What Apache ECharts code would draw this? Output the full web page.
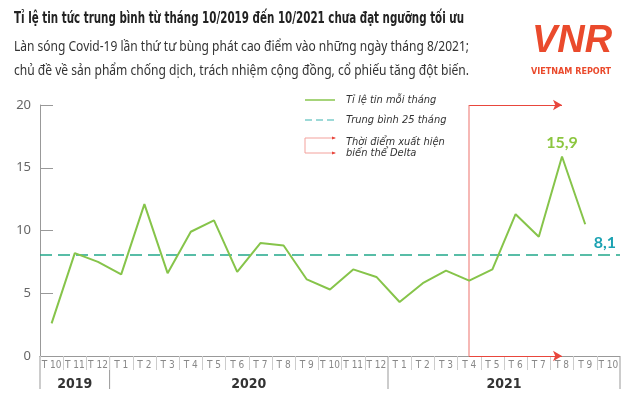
<!DOCTYPE html>
<html>
<head>
<meta charset="utf-8">
<script src="https://cdn.jsdelivr.net/npm/echarts@6/dist/echarts.min.js"></script>
<style>
  html, body { margin: 0; padding: 0; background: #fff; }
  #chart { width: 630px; height: 402px; }
</style>
</head>
<body>
<div id="chart"></div>
<script>
// tháng, từ T10/2019 đến T10/2021
const months = ['T 10', 'T 11', 'T 12',
  'T 1', 'T 2', 'T 3', 'T 4', 'T 5', 'T 6', 'T 7', 'T 8', 'T 9', 'T 10', 'T 11', 'T 12',
  'T 1', 'T 2', 'T 3', 'T 4', 'T 5', 'T 6', 'T 7', 'T 8', 'T 9', 'T 10']
const years = ['2019', '2020', '2021']
const yearSpans = [3, 12, 10]
// tỉ lệ tin mỗi tháng (%)
const rate = [2.6, 8.2, 7.5, 6.5, 12.1, 6.6, 9.9, 10.8, 6.7, 9.0, 8.8, 6.1, 5.3, 6.9, 6.3,
  4.3, 5.8, 6.8, 6.0, 6.9, 11.3, 9.5, 15.9, 10.5, null]
const avg = 8.1
const peakIndex = 22
const deltaFrom = 18   // T4/2021
const deltaTo = 22     // T8/2021
const yMin = 0, yMax = 20, yStep = 5

const GREEN = '#86c44a'
const TEAL = '#22a88a'
const RED = '#e8463c'
const PINK = '#f3a19c'
const COND = "'DejaVu Sans Condensed', sans-serif"

const chart = echarts.init(document.getElementById('chart'))

const fmt = v => String(v).replace('.', ',')

// đo chữ để ép ngang cho giống font condensed của bản gốc
const ctx = document.createElement('canvas').getContext('2d')
const fitText = (text, font, x, y, width, color) => {
  ctx.font = font
  const w = ctx.measureText(text).width
  return { type: 'text', x: x, y: y, scaleX: width / w, style: { text: text, fill: color, font: font } }
}

const option = {
  animation: false,
  backgroundColor: '#fff',
  grid: { left: 40, right: 10, top: 105, bottom: 46 },
  xAxis: {
    type: 'category',
    data: months,
    boundaryGap: true,
    axisLine: { lineStyle: { color: '#999', width: 1 } },
    axisTick: { show: true, interval: 0, length: 14, lineStyle: { color: '#ccc' } },
    axisLabel: { interval: 0, margin: 4, color: '#888', fontSize: 10, fontFamily: COND }
  },
  yAxis: {
    type: 'value',
    min: yMin, max: yMax, interval: yStep,
    axisLine: { show: true, lineStyle: { color: '#999' } },
    axisTick: { show: true, inside: true, length: 13, lineStyle: { color: '#999' } },
    axisLabel: { margin: 9, color: '#666', fontSize: 13, fontFamily: 'Noto Sans' },
    splitLine: { show: false }
  },
  series: [
    {
      name: 'Tỉ lệ tin mỗi tháng',
      type: 'line',
      data: rate,
      symbol: 'none',
      z: 5,
      lineStyle: { color: GREEN, width: 2 },
      markPoint: {
        symbol: 'circle', symbolSize: 0,
        data: [{ coord: [peakIndex, rate[peakIndex]], value: rate[peakIndex] }],
        label: {
          show: true, position: 'top', distance: 6,
          formatter: p => fmt(p.value),
          color: '#8cc63f', fontSize: 16, fontWeight: 'bold', fontFamily: 'Lato'
        }
      }
    },
    {
      name: 'Trung bình 25 tháng',
      type: 'line',
      data: [],
      markLine: {
        silent: true,
        symbol: 'none',
        lineStyle: { color: TEAL, type: [12, 6], width: 1.5 },
        data: [{ yAxis: avg }],
        label: {
          show: true, position: 'insideEndTop', distance: [4, 4],
          formatter: () => fmt(avg),
          color: '#1ba2b2', fontSize: 16, fontWeight: 'bold', fontFamily: 'Lato'
        }
      }
    },
    {
      name: 'Thời điểm xuất hiện biến thể Delta',
      type: 'line',
      data: [],
      markLine: {
        silent: true,
        symbol: ['none', 'arrow'],
        symbolSize: [8, 9],
        label: { show: false },
        lineStyle: { type: 'solid' },
        data: [
          [{ coord: [deltaFrom, yMin], symbol: 'none', lineStyle: { color: PINK, width: 1.5, type: 'solid' } },
           { coord: [deltaFrom, yMax], symbol: 'none' }],
          [{ coord: [deltaFrom, yMax], lineStyle: { color: RED, width: 1.2, type: 'solid' } }, { coord: [deltaTo, yMax] }],
          [{ coord: [deltaFrom, yMin], lineStyle: { color: RED, width: 1.2, type: 'solid' } }, { coord: [deltaTo, yMin] }]
        ]
      }
    }
  ]
}

chart.setOption(option)

// nhãn năm và vạch phân cách năm, đặt theo trục x
const grp = []
const axisY = chart.convertToPixel({ yAxisIndex: 0 }, yMin)
const half = (chart.convertToPixel({ xAxisIndex: 0 }, 1) - chart.convertToPixel({ xAxisIndex: 0 }, 0)) / 2
let start = 0
years.forEach((y, i) => {
  const end = start + yearSpans[i]
  const x0 = chart.convertToPixel({ xAxisIndex: 0 }, start) - half
  const x1 = chart.convertToPixel({ xAxisIndex: 0 }, end - 1) + half
  grp.push({ type: 'line', shape: { x1: x0, y1: axisY, x2: x0, y2: axisY + 33 }, style: { stroke: '#999', lineWidth: 1 } })
  if (i === years.length - 1) {
    grp.push({ type: 'line', shape: { x1: x1, y1: axisY, x2: x1, y2: axisY + 33 }, style: { stroke: '#999', lineWidth: 1 } })
  }
  grp.push({
    type: 'text', x: (x0 + x1) / 2, y: axisY + 28,
    style: { text: y, fill: '#333', font: "bold 14px " + COND, textAlign: 'center', textVerticalAlign: 'middle' }
  })
  start = end
})

// tiêu đề, chú thích, logo
grp.push(
  fitText('Tỉ lệ tin tức trung bình từ tháng 10/2019 đến 10/2021 chưa đạt ngưỡng tối ưu', "bold 15px " + COND, 14, 12, 450, '#222'),
  fitText('Làn sóng Covid-19 lần thứ tư bùng phát cao điểm vào những ngày tháng 8/2021;', "15px 'Noto Sans'", 14, 39, 455, '#333'),
  fitText('chủ đề về sản phẩm chống dịch, trách nhiệm cộng đồng, cổ phiếu tăng đột biến.', "15px 'Noto Sans'", 14, 63, 455, '#333'),

  { type: 'line', shape: { x1: 305, y1: 100, x2: 335, y2: 100 }, style: { stroke: '#a6d47a', lineWidth: 2 } },
  { type: 'text', x: 346, y: 100, style: { text: 'Tỉ lệ tin mỗi tháng', fill: '#333', font: "italic 11px " + COND, textVerticalAlign: 'middle' } },
  { type: 'line', shape: { x1: 305, y1: 120, x2: 335, y2: 120 }, style: { stroke: '#3bb3b0', lineWidth: 1.2, lineDash: [7, 4] } },
  { type: 'text', x: 346, y: 120, style: { text: 'Trung bình 25 tháng', fill: '#333', font: "italic 11px " + COND, textVerticalAlign: 'middle' } },
  { type: 'polyline', shape: { points: [[335, 138], [305, 138], [305, 153], [335, 153]] }, style: { stroke: PINK, lineWidth: 1, fill: null } },
  { type: 'polygon', shape: { points: [[332, 136.5], [336, 138], [332, 139.5]] }, style: { fill: RED } },
  { type: 'polygon', shape: { points: [[332, 151.5], [336, 153], [332, 154.5]] }, style: { fill: RED } },
  { type: 'text', x: 346, y: 142, style: { text: 'Thời điểm xuất hiện', fill: '#333', font: "italic 11px " + COND, textVerticalAlign: 'middle' } },
  { type: 'text', x: 346, y: 153, style: { text: 'biến thể Delta', fill: '#333', font: "italic 11px " + COND, textVerticalAlign: 'middle' } },

  { type: 'text', x: 572, y: 42, style: { text: 'VNR', fill: '#ea4a2c', font: "italic bold 38px 'Liberation Sans'", textAlign: 'center', textVerticalAlign: 'middle' } },
  { type: 'text', x: 571, y: 72, style: { text: 'VIETNAM REPORT', fill: '#ea4a2c', font: "bold 9px " + COND, textAlign: 'center', textVerticalAlign: 'middle' } }
)

chart.setOption({ graphic: { elements: grp } })

window.addEventListener('resize', () => chart.resize())
</script>
</body>
</html>
